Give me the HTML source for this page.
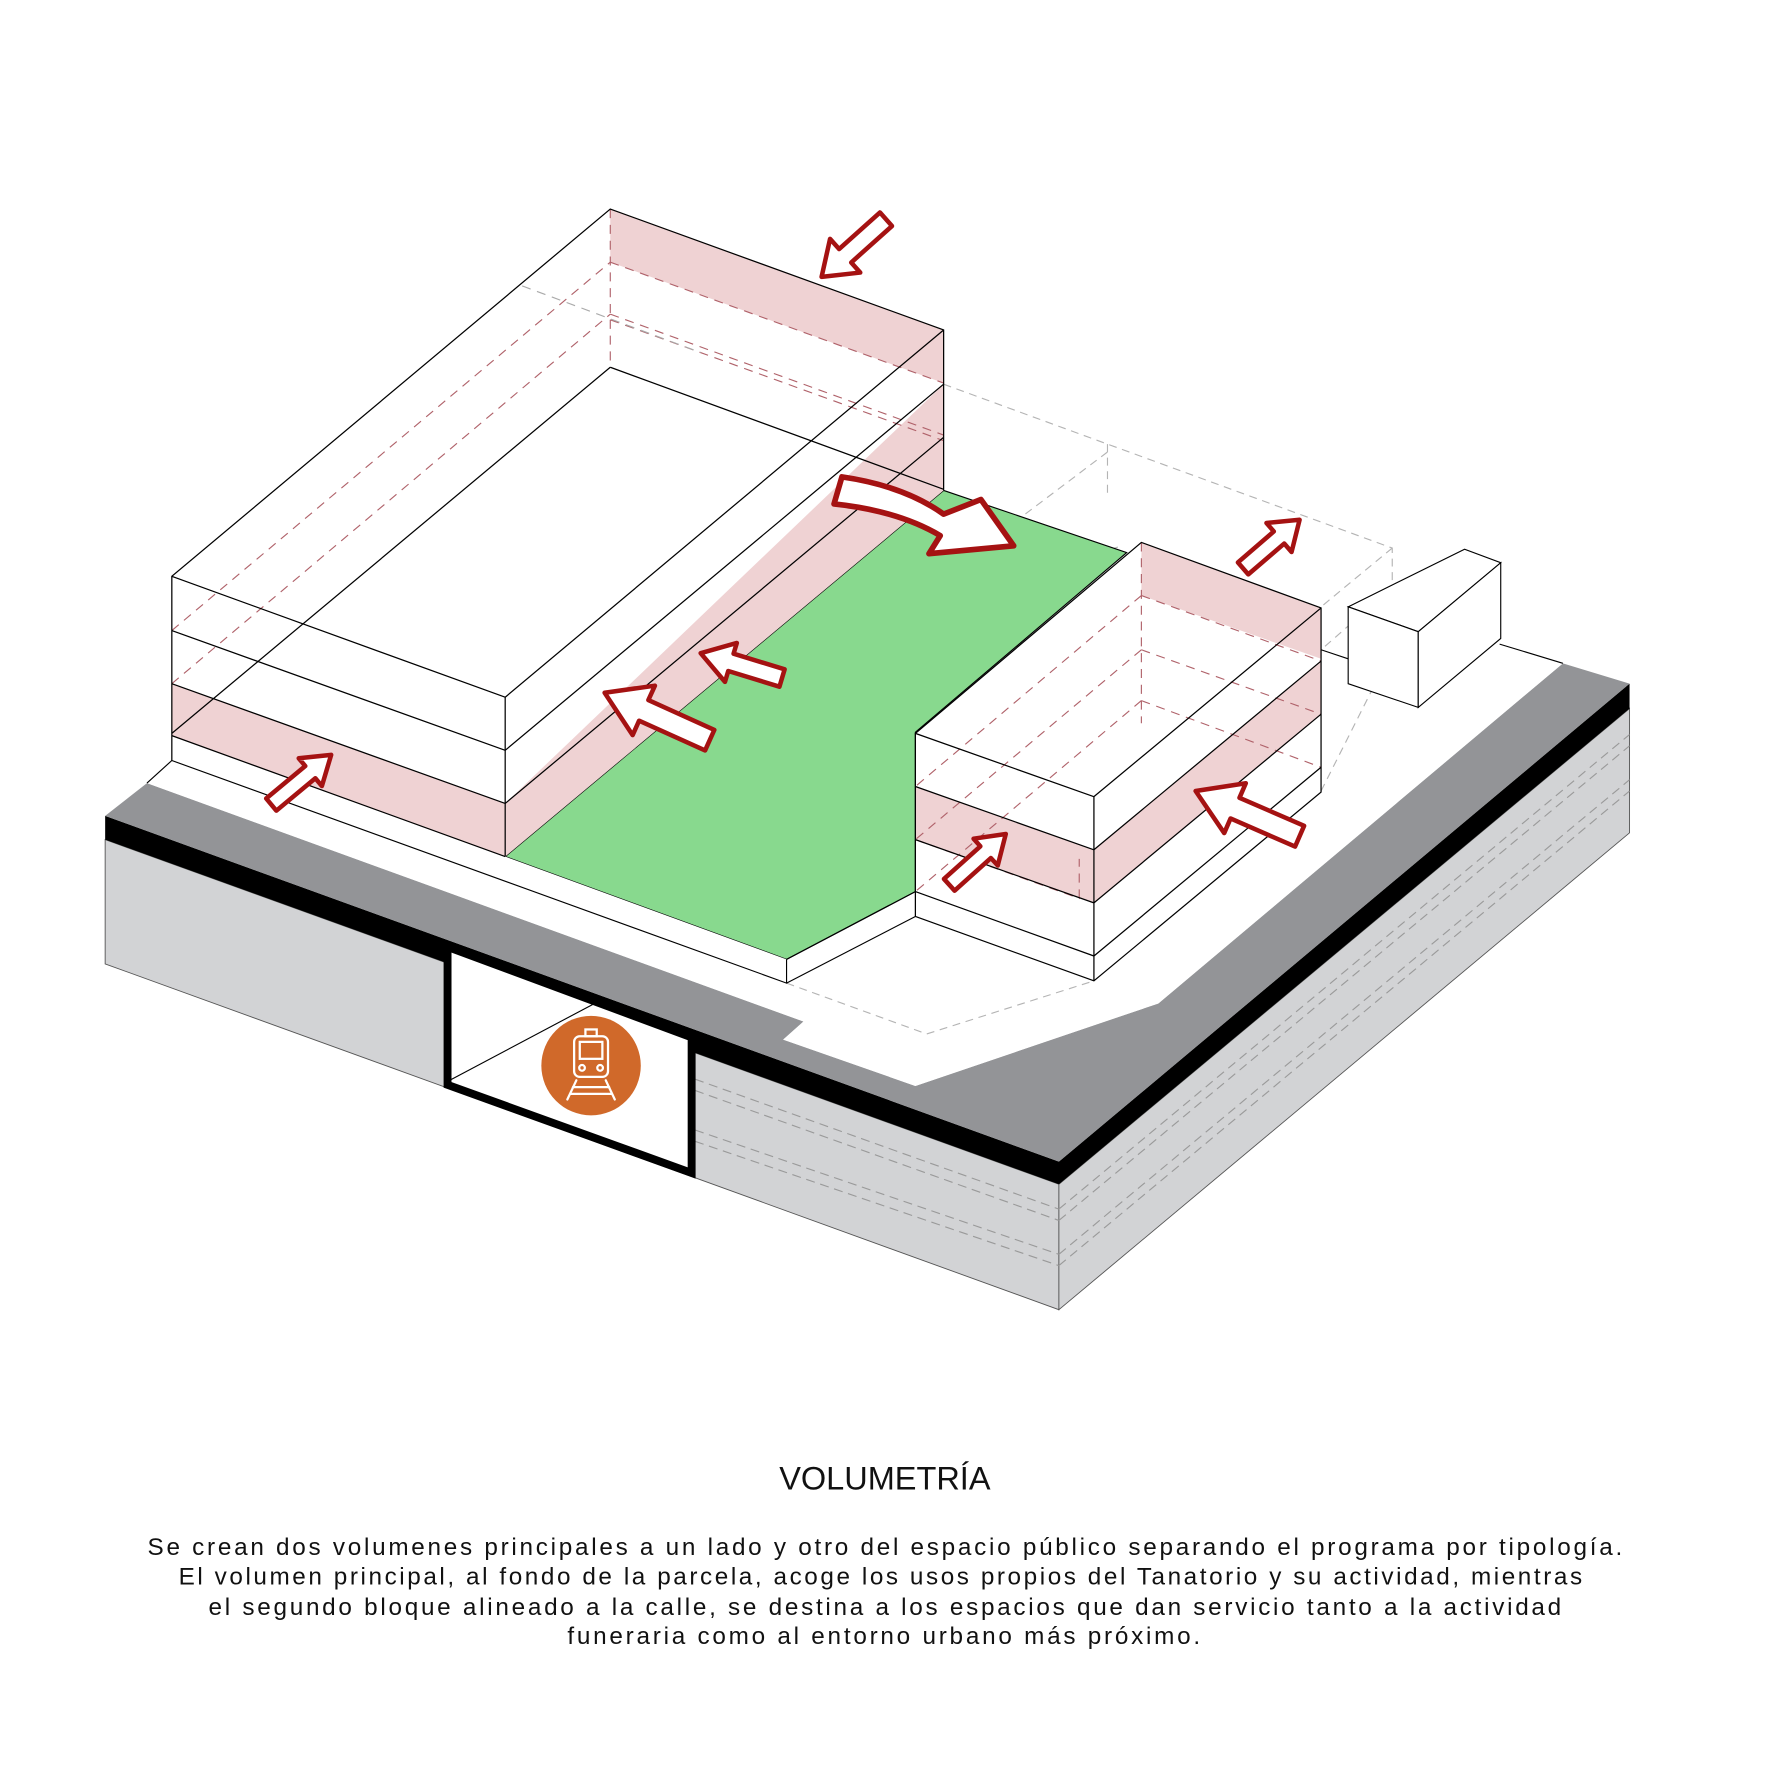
<!DOCTYPE html>
<html><head><meta charset="utf-8"><style>
html,body{margin:0;padding:0;background:#fff;}
svg{display:block}
</style></head><body>
<svg id="s" xmlns="http://www.w3.org/2000/svg" width="1772" height="1773" viewBox="0 0 1568 1569">
<rect width="1568" height="1569" fill="#fff"/>
<!-- base faces -->
<polygon points="93,743 937,1048 937,1159 93,853" fill="#d2d3d5" stroke="#555" stroke-width="0.8"/>
<polygon points="937,1048 1442,627 1442,737 937,1159" fill="#d2d3d5" stroke="#555" stroke-width="0.8"/>
<g stroke="#9a9a9a" stroke-width="1" stroke-dasharray="8 5" fill="none">
<line x1="615" y1="955" x2="937" y2="1070"/><line x1="615" y1="965" x2="937" y2="1080"/>
<line x1="615" y1="1000" x2="937" y2="1110"/><line x1="615" y1="1010" x2="937" y2="1120"/>
<line x1="937" y1="1070" x2="1442" y2="650"/><line x1="937" y1="1080" x2="1442" y2="660"/>
<line x1="937" y1="1110" x2="1442" y2="690"/><line x1="937" y1="1120" x2="1442" y2="700"/>
</g>
<polygon points="93,722 937,1028 1442,605 1442,627 937,1048 93,743" fill="#000"/>
<polygon points="93,722 130,693 711,904 693,920 810,961 1025,888 1383,587 1442,605 937,1028" fill="#939497"/>
<polygon points="130,693 540,350 1327,570 1383,587 1025,888 810,961 693,920 711,904" fill="#fff"/>
<line x1="1327" y1="570" x2="1383" y2="587" stroke="#000" stroke-width="1"/>
<!-- tunnel -->
<polygon points="396,838 612,918 612,1038 396,960" fill="#fff" stroke="#000" stroke-width="7"/>
<line x1="398" y1="956" x2="528" y2="887" stroke="#000" stroke-width="1"/>
<ellipse cx="523" cy="943" rx="44" ry="44" fill="#d0692a"/>
<g stroke="#fff" stroke-width="2" fill="none" stroke-linecap="round">
<rect x="508" y="917" width="30" height="36" rx="5"/>
<rect x="513" y="922" width="20" height="15"/>
<rect x="518" y="911" width="10" height="6"/>
<circle cx="515" cy="945" r="2.5"/><circle cx="531" cy="945" r="2.5"/>
<line x1="510" y1="956" x2="502" y2="973"/><line x1="536" y1="956" x2="544" y2="973"/>
<line x1="507" y1="962" x2="539" y2="962"/><line x1="505" y1="968" x2="541" y2="968"/>
</g>
<!-- back wireframe dashed -->
<g stroke="#b4b4b4" stroke-width="1" stroke-dasharray="7 5" fill="none">
<polyline points="835,340 980,393 1232,485 1232,578"/>
<line x1="980" y1="393" x2="980" y2="440"/>
<polyline points="980,400 788,545 788,600"/>
<polyline points="685,510 788,545 993,483"/>
<line x1="1232" y1="485" x2="1169" y2="537"/>
<line x1="1232" y1="520" x2="1169" y2="575"/>
<polyline points="696,870 820,915 968,868"/>
<line x1="1169" y1="700" x2="1232" y2="575"/>
</g>
<!-- small box -->
<polygon points="1193,537 1296,486 1328,498 1255,559" fill="#fff" stroke="#000" stroke-width="1"/>
<polygon points="1193,537 1255,559 1255,626 1193,605" fill="#fff" stroke="#000" stroke-width="1"/>
<polygon points="1255,559 1328,498 1328,565 1255,626" fill="#fff" stroke="#000" stroke-width="1"/>
<line x1="1169" y1="575" x2="1193" y2="583" stroke="#000" stroke-width="1"/>
<!-- green -->
<polygon points="447,758 835,434 997,489 810,648 810,789 696,849" fill="#88d98e" stroke="#000" stroke-width="1"/>
<!-- left plinth -->
<polygon points="130,693 152,673 696,870 696,849 447,758 152,651" fill="#fff"/>
<polyline points="130,693 152,673 696,870 696,849" fill="none" stroke="#000" stroke-width="1"/>
<polyline points="696,870 810,811" fill="none" stroke="#000" stroke-width="1"/>
<polyline points="696,849 810,789" fill="none" stroke="#000" stroke-width="1"/>
<!-- left building -->
<polygon points="152,605 447,711 447,758 152,651" fill="#efd2d3"/>
<polygon points="447,711 835,340 835,434 447,758" fill="#efd2d3"/>
<polygon points="540,185 835,292 835,339 540,232" fill="#efd2d3"/>
<g stroke="#b0626a" stroke-width="1" stroke-dasharray="8 6" fill="none">
<line x1="152" y1="558" x2="540" y2="232"/><line x1="152" y1="605" x2="540" y2="278"/>
<line x1="540" y1="232" x2="835" y2="339"/><line x1="540" y1="278" x2="835" y2="385"/>
<line x1="540" y1="283" x2="835" y2="390"/>
<line x1="540" y1="185" x2="540" y2="325"/>
</g>
<line x1="462" y1="253" x2="620" y2="312" stroke="#aaa" stroke-dasharray="8 6"/>
<g stroke="#000" stroke-width="1.1" fill="none">
<polyline points="152,673 152,510 540,185 835,292 835,434"/>
<line x1="152" y1="510" x2="447" y2="617"/>
<line x1="152" y1="558" x2="447" y2="664"/>
<line x1="152" y1="605" x2="447" y2="711"/>
<line x1="152" y1="651" x2="447" y2="758"/>
<line x1="447" y1="617" x2="447" y2="758"/>
<line x1="447" y1="617" x2="835" y2="292"/>
<line x1="447" y1="664" x2="835" y2="340"/>
<line x1="447" y1="711" x2="835" y2="387"/>
<line x1="152" y1="649" x2="540" y2="325"/>
<line x1="540" y1="325" x2="835" y2="433"/>
</g>
<!-- right building -->
<polygon points="810,649 968,705 968,868 810,811" fill="#fff"/>
<polygon points="968,705 1169,538 1169,701 968,868" fill="#fff"/>
<polygon points="810,696 968,752 968,799 810,743" fill="#efd2d3"/>
<polygon points="968,752 1169,585 1169,632 968,799" fill="#efd2d3"/>
<polygon points="1010,480 1169,538 1169,583 1010,527" fill="#efd2d3"/>
<g stroke="#b0626a" stroke-width="1" stroke-dasharray="8 6" fill="none">
<line x1="1010" y1="480" x2="1010" y2="640"/>
<line x1="1010" y1="527" x2="810" y2="696"/><line x1="1010" y1="575" x2="810" y2="743"/>
<line x1="1010" y1="620" x2="810" y2="789"/>
<line x1="1010" y1="575" x2="1169" y2="632"/><line x1="1010" y1="620" x2="1169" y2="679"/>
<line x1="1010" y1="527" x2="1169" y2="585"/>
<polyline points="810,743 955,795 955,760"/>
</g>
<g stroke="#000" stroke-width="1.1" fill="none">
<polyline points="810,811 810,649 1010,480 1169,538 1169,701 968,868 810,811"/>
<line x1="810" y1="649" x2="968" y2="705"/><line x1="968" y1="705" x2="1169" y2="538"/>
<line x1="968" y1="705" x2="968" y2="868"/>
<line x1="810" y1="696" x2="968" y2="752"/><line x1="810" y1="743" x2="968" y2="799"/><line x1="810" y1="789" x2="968" y2="846"/>
<line x1="968" y1="752" x2="1169" y2="585"/><line x1="968" y1="799" x2="1169" y2="632"/><line x1="968" y1="846" x2="1169" y2="679"/>
</g>
<g id="arrows" fill="#fff" stroke="#a51212" stroke-width="4" stroke-linejoin="round"></g>
<path d="M745,422 Q800,430 835,455 L868,442 L897,483 L822,490 L832,474 Q795,452 738,446 Z" fill="#fff" stroke="#a51212" stroke-width="5" stroke-linejoin="round"/>
<g font-family="Liberation Sans, sans-serif" fill="#111" text-anchor="middle">
<text x="783" y="1318" font-size="29" textLength="187" lengthAdjust="spacingAndGlyphs">VOLUMETRÍA</text>
<text x="783" y="1376" font-size="21.5" textLength="1305" lengthAdjust="spacing">Se crean dos volumenes principales a un lado y otro del espacio público separando el programa por tipología.</text>
<text x="779" y="1402" font-size="21.5" textLength="1242" lengthAdjust="spacing">El volumen principal, al fondo de la parcela, acoge los usos propios del Tanatorio y su actividad, mientras</text>
<text x="783" y="1429" font-size="21.5" textLength="1197" lengthAdjust="spacing">el segundo bloque alineado a la calle, se destina a los espacios que dan servicio tanto a la actividad</text>
<text x="782" y="1455" font-size="21.5" textLength="560" lengthAdjust="spacing">funeraria como al entorno urbano más próximo.</text>
</g>
</svg>
<script>
(function(){
var g=document.getElementById('arrows');
function arrow(tx,ty,px,py,w,h,L){
 var dx=px-tx,dy=py-ty,l=Math.sqrt(dx*dx+dy*dy);dx/=l;dy/=l;var nx=-dy,ny=dx;
 var bx=px-dx*L,by=py-dy*L;
 var p=[[tx+nx*w,ty+ny*w],[bx+nx*w,by+ny*w],[bx+nx*h,by+ny*h],[px,py],[bx-nx*h,by-ny*h],[bx-nx*w,by-ny*w],[tx-nx*w,ty-ny*w]];
 var e=document.createElementNS('http://www.w3.org/2000/svg','polygon');
 e.setAttribute('points',p.map(function(q){return q[0].toFixed(1)+','+q[1].toFixed(1)}).join(' '));
 g.appendChild(e);
}
arrow(784,194,727,245,8,20,28);
arrow(1100,503,1150,460,7,17,24);
arrow(692,600,620,578,8,18,28);
arrow(628,655,535,613,10,24,38);
arrow(240,712,293,668,7,16,24);
arrow(840,783,890,738,7,16,24);
arrow(1150,740,1058,700,10,24,38);
})();
</script>
</body></html>
